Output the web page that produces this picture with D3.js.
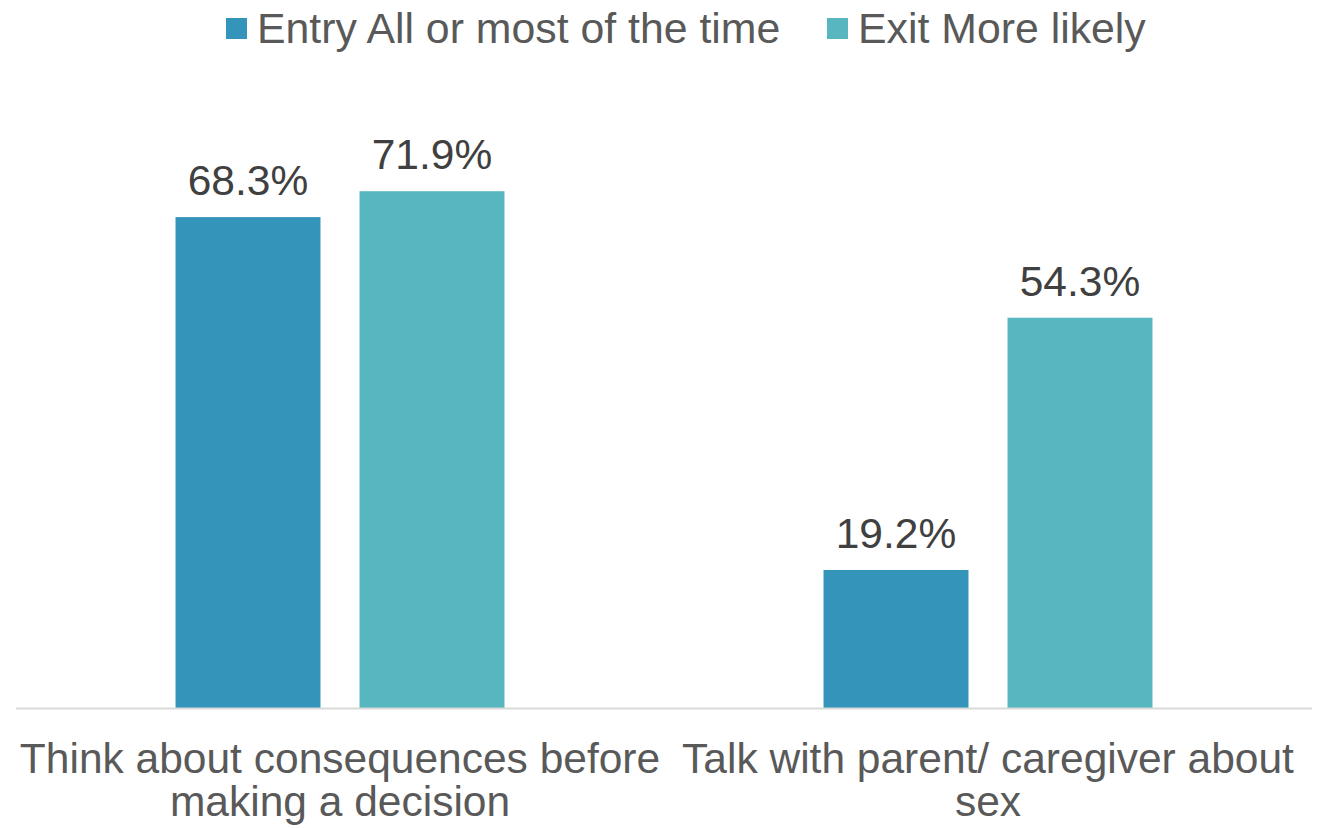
<!DOCTYPE html>
<html>
<head>
<meta charset="utf-8">
<script src="https://cdn.jsdelivr.net/npm/d3@7"></script>
<style>
  body { margin: 0; background: #fff; }
  text { font-family: "Liberation Sans", Arial, sans-serif; }
</style>
</head>
<body>
<div id="chart"></div>
<script>
// data
var categories = [["Think about consequences before", "making a decision"], ["Talk with parent/ caregiver about", "sex"]];
var seriesNames = ["Entry All or most of the time", "Exit More likely"];
var entryValues = [68.3, 19.2];
var exitValues = [71.9, 54.3];
var colors = ["#3494BA", "#58B6C0"];

var width = 1322, height = 828;
var margin = {top: 133, right: 10, bottom: 120, left: 16};

var svg = d3.select("#chart").append("svg")
  .attr("width", width)
  .attr("height", height);

var x0 = d3.scaleBand()
  .domain(d3.range(categories.length))
  .range([margin.left, width - margin.right])
  .paddingInner(0)
  .paddingOuter(0);

var x1 = d3.scaleBand()
  .domain(d3.range(seriesNames.length))
  .range([0, x0.bandwidth()])
  .paddingInner(0.212)
  .paddingOuter(0.867);

var y = d3.scaleLinear()
  .domain([0, 80])
  .range([height - margin.bottom, margin.top]);

var rows = categories.map(function(c, i) {
  return [entryValues[i], exitValues[i]];
});

var groups = svg.selectAll("g.group")
  .data(rows)
  .join("g")
    .attr("class", "group")
    .attr("transform", function(d, i) { return "translate(" + x0(i) + ",0)"; });

groups.selectAll("rect")
  .data(function(d) { return d; })
  .join("rect")
    .attr("x", function(d, j) { return x1(j); })
    .attr("y", function(d) { return y(d); })
    .attr("width", x1.bandwidth())
    .attr("height", function(d) { return y(0) - y(d); })
    .attr("fill", function(d, j) { return colors[j]; });

groups.selectAll("text.val")
  .data(function(d) { return d; })
  .join("text")
    .attr("class", "val")
    .attr("x", function(d, j) { return x1(j) + x1.bandwidth() / 2; })
    .attr("y", function(d) { return y(d) - 22; })
    .attr("text-anchor", "middle")
    .attr("font-size", 42.5)
    .attr("fill", "#404040")
    .text(function(d) { return d.toFixed(1) + "%"; });

// axis line
svg.append("line")
  .attr("x1", margin.left)
  .attr("x2", width - margin.right)
  .attr("y1", y(0) + 0.5)
  .attr("y2", y(0) + 0.5)
  .attr("stroke", "#D9D9D9")
  .attr("stroke-width", 2);

// category labels
var catLabels = svg.selectAll("text.cat")
  .data(categories)
  .join("text")
    .attr("class", "cat")
    .attr("text-anchor", "middle")
    .attr("font-size", 42.5)
    .attr("fill", "#595959");

catLabels.selectAll("tspan")
  .data(function(d, i) { return d.map(function(s) { return {s: s, i: i}; }); })
  .join("tspan")
    .attr("x", function(d) { return x0(d.i) + x0.bandwidth() / 2; })
    .attr("y", function(d, k) { return 773 + k * 43; })
    .text(function(d) { return d.s; });

// legend
var legendX = [226, 827];
var legend = svg.selectAll("g.legend")
  .data(seriesNames)
  .join("g")
    .attr("class", "legend")
    .attr("transform", function(d, i) { return "translate(" + legendX[i] + ",0)"; });

legend.append("rect")
  .attr("x", 0)
  .attr("y", 18)
  .attr("width", 21)
  .attr("height", 21)
  .attr("fill", function(d, i) { return colors[i]; });

legend.append("text")
  .attr("x", 31)
  .attr("y", 43)
  .attr("font-size", 42.8)
  .attr("fill", "#595959")
  .text(function(d) { return d; });
</script>
</body>
</html>
